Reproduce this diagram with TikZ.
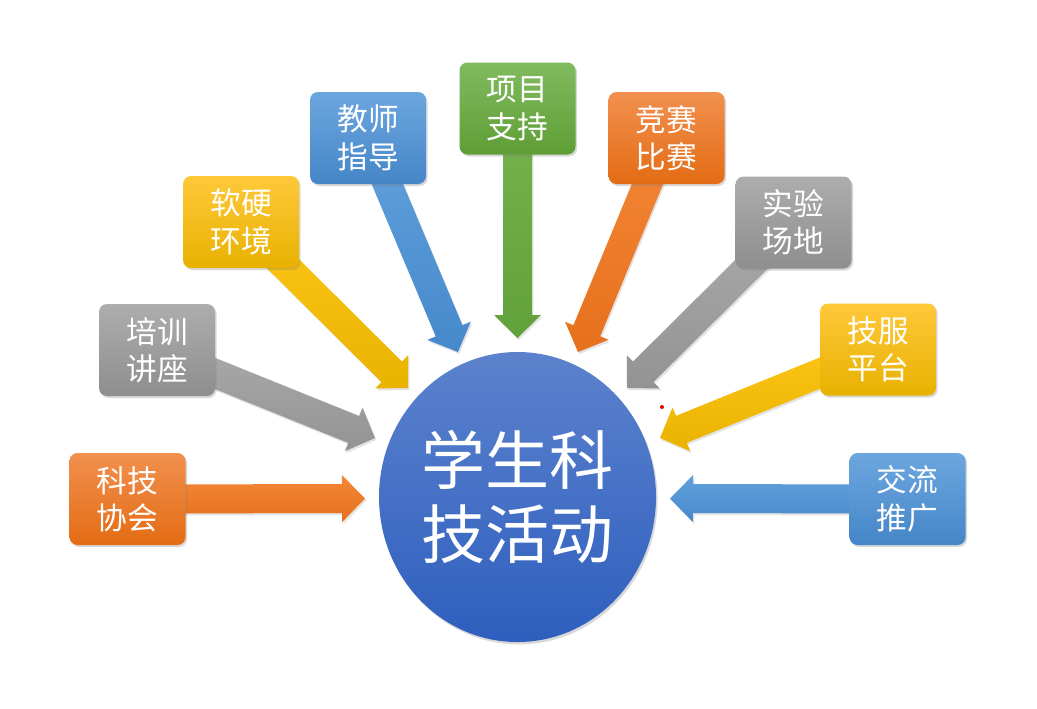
\documentclass[tikz,border=0pt]{standalone}
\usepackage{fontspec}
\setmainfont{Noto Sans CJK SC}
\usetikzlibrary{calc,shapes.geometric,shadows}
\pgfdeclarelayer{bg}
\pgfdeclarelayer{paper}
\pgfsetlayers{paper,bg,main}
\definecolor{orT}{HTML}{F2904F}\definecolor{orB}{HTML}{E36C14}
\definecolor{grT}{HTML}{ADADAD}\definecolor{grB}{HTML}{8E8E8E}
\definecolor{yeT}{HTML}{FFC83A}\definecolor{yeB}{HTML}{E8B100}
\definecolor{blT}{HTML}{6CA6DF}\definecolor{blB}{HTML}{4586C8}
\definecolor{gnT}{HTML}{80BB5E}\definecolor{gnB}{HTML}{5F9E36}
\definecolor{ciT}{HTML}{5C82CD}\definecolor{ciB}{HTML}{2E5FBE}
\definecolor{aorT}{HTML}{F48838}\definecolor{aorB}{HTML}{E6701C}
\definecolor{agrT}{HTML}{ABABAB}\definecolor{agrB}{HTML}{939393}
\definecolor{ayeT}{HTML}{FFC618}\definecolor{ayeB}{HTML}{E9B300}
\definecolor{ablT}{HTML}{61A1DD}\definecolor{ablB}{HTML}{4689CB}
\definecolor{agnT}{HTML}{76B34E}\definecolor{agnB}{HTML}{62A23A}
\newcommand\blkarrow[4]{%
  \coordinate (hb) at ($(#2)!17.25pt!(#1.center)$);
  \path[top color=#3,bottom color=#4,
        drop shadow={opacity=0.22,shadow xshift=1pt,shadow yshift=-1.5pt}]
    ($(#1.center)!10.875pt!90:(#2)$) -- ($(hb)!10.875pt!90:(#2)$)
    -- ($(hb)!17.625pt!90:(#2)$) -- (#2)
    -- ($(hb)!17.625pt!-90:(#2)$) -- ($(hb)!10.875pt!-90:(#2)$)
    -- ($(#1.center)!10.875pt!-90:(#2)$) -- cycle;
}
\begin{document}
\begin{tikzpicture}[x=0.75pt,y=-0.75pt,
  box/.style={rounded corners=6pt, minimum width=87pt, minimum height=69pt,
    inner sep=0pt, text=white, align=center,
    font=\fontsize{23pt}{28pt}\selectfont,
    drop shadow={opacity=0.3,shadow xshift=1.2pt,shadow yshift=-1.5pt}},
  orbox/.style={box, top color=orT, bottom color=orB},
  grbox/.style={box, top color=grT, bottom color=grB},
  yebox/.style={box, top color=yeT, bottom color=yeB},
  blbox/.style={box, top color=blT, bottom color=blB},
  gnbox/.style={box, top color=gnT, bottom color=gnB},
  hubstyle/.style={ellipse, minimum width=207.75pt, minimum height=217.5pt,
    inner sep=0pt, top color=ciT, bottom color=ciB, text=white, align=center,
    font=\fontsize{48pt}{56pt}\selectfont,
    drop shadow={opacity=0.3,shadow xshift=1.2pt,shadow yshift=-1.8pt}}
]
\useasboundingbox (0,0) rectangle (1037,708);
\begin{pgfonlayer}{paper}
\fill[white] (0,0) rectangle (1037,708);
\end{pgfonlayer}

\node[hubstyle] (hub) at (517.5,497) {学生科\\技活动};

\node[orbox] (L0) at (127.5,499) {科技\\协会};
\node[grbox] (L1) at (157,350) {培训\\讲座};
\node[yebox] (L2) at (241,222) {软硬\\环境};
\node[blbox] (L3) at (368,138) {教师\\指导};
\node[gnbox] (T)  at (517.5,108.5) {项目\\支持};
\node[orbox] (R3) at (666.5,138) {竞赛\\比赛};
\node[grbox] (R2) at (793.5,222.5) {实验\\场地};
\node[yebox] (R1) at (878,349.5) {技服\\平台};
\node[blbox] (R0) at (907.5,499) {交流\\推广};

\coordinate (tL0) at (365,498.5);
\coordinate (tL1) at (375,438);
\coordinate (tL2) at (408,388);
\coordinate (tL3) at (458,352);
\coordinate (tT)  at (517.5,338);
\coordinate (tR3) at (578,352);
\coordinate (tR2) at (627,388);
\coordinate (tR1) at (660,438);
\coordinate (tR0) at (670,498.5);

\begin{pgfonlayer}{bg}
\blkarrow{L0}{tL0}{aorT}{aorB}
\blkarrow{L1}{tL1}{agrT}{agrB}
\blkarrow{L2}{tL2}{ayeT}{ayeB}
\blkarrow{L3}{tL3}{ablT}{ablB}
\blkarrow{T}{tT}{agnT}{agnB}
\blkarrow{R3}{tR3}{aorT}{aorB}
\blkarrow{R2}{tR2}{agrT}{agrB}
\blkarrow{R1}{tR1}{ayeT}{ayeB}
\blkarrow{R0}{tR0}{ablT}{ablB}
\end{pgfonlayer}

\fill[red!90!black] (662,407) circle (2);
\end{tikzpicture}
\end{document}
